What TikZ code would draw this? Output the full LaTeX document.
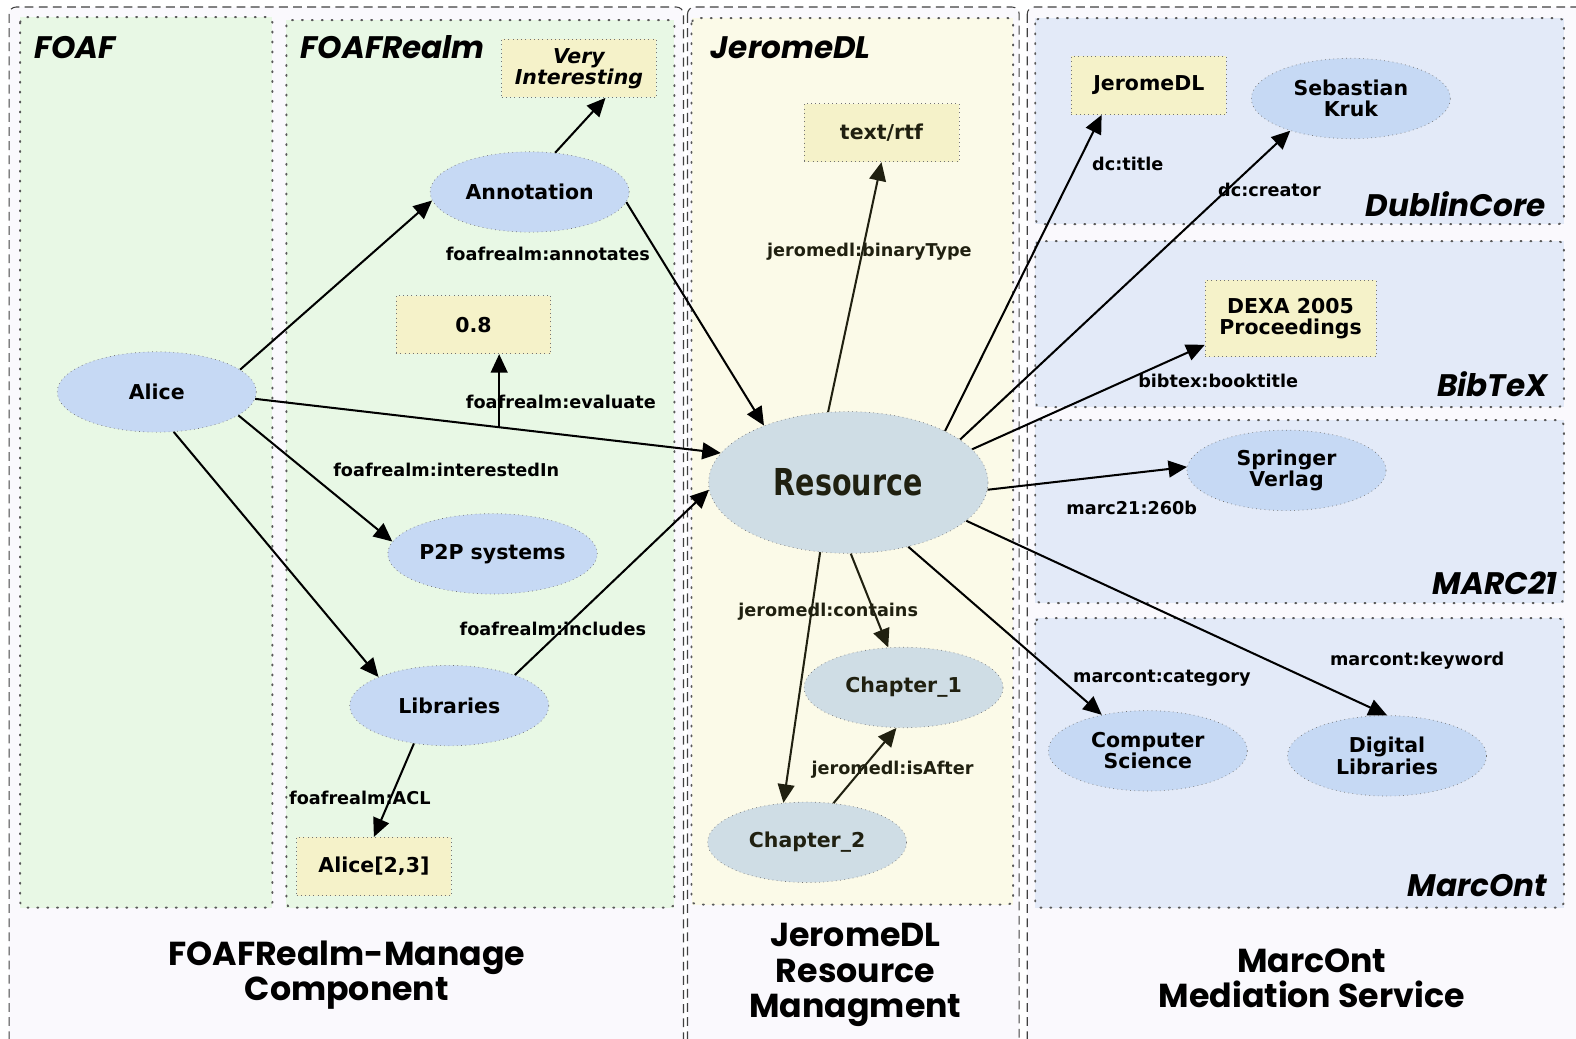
\documentclass[tikz,border=0pt]{standalone}
\usepackage{fontspec}
\setmainfont{DejaVu Sans}
\newfontfamily\headfont{Poppins}
\usetikzlibrary{shapes.geometric, arrows.meta, positioning}
\definecolor{outerfill}{RGB}{250,249,253}
\definecolor{foafgreen}{RGB}{232,248,229}
\definecolor{jdlyellow}{RGB}{251,250,232}
\definecolor{marcblue}{RGB}{227,234,248}
\definecolor{nodeblue}{RGB}{198,217,244}
\definecolor{resgray}{RGB}{207,221,229}
\definecolor{lityellow}{RGB}{245,242,201}
\definecolor{jdltext}{RGB}{32,32,16}
\newcommand{\nodefont}{\fontsize{11.6}{12}\selectfont\bfseries}
\newcommand{\lblfont}{\fontsize{10}{12}\selectfont\bfseries}
\newcommand{\regionfont}{\headfont\fontsize{17.6}{20}\selectfont\bfseries\itshape}
\newcommand{\compfont}{\headfont\fontsize{18.8}{19.9}\selectfont\bfseries}

\begin{document}
\begin{tikzpicture}[
    x=0.02cm, y=-0.02cm,
    outerbox/.style={draw=black!75, fill=outerfill, dash pattern=on 5pt off 3pt, line width=0.6pt, rounded corners=4pt},
    innerbox/.style={draw=black!65, dash pattern=on 0.6pt off 5pt, line cap=round, line width=1.1pt, rounded corners=3pt},
    res/.style={ellipse, draw=black!55, dotted, fill=nodeblue, minimum width=3.96cm, minimum height=1.6cm, inner sep=0.5pt, align=center, font=\nodefont},
    jres/.style={res, fill=resgray, text=jdltext},
    lit/.style={rectangle, draw=black!55, dotted, fill=lityellow, minimum width=3.08cm, minimum height=1.16cm, align=center, font=\nodefont},
    lbl/.style={font=\lblfont, inner sep=1pt},
    region/.style={font=\regionfont, inner sep=0pt},
    comp/.style={font=\compfont, align=center, inner sep=0pt},
    arr/.style={-{Triangle[length=10.5pt, width=9.5pt]}, line width=1.15pt},
    jarr/.style={arr, jdltext}
]
\useasboundingbox (0,0) rectangle (1568,1033);

% Components and vocabularies
\begin{scope}
\clip (0,0) rectangle (1568,1033);
\draw[outerbox] (9,7) rectangle (680,1050);
\draw[outerbox] (684,7) rectangle (1014,1050);
\draw[outerbox] (1022,7) rectangle (1590,1050);
\end{scope}
\fill[foafgreen] (20,17) rectangle (271,903);
\draw[innerbox] (20,17) rectangle (271,903);
\fill[foafgreen] (285,20) rectangle (671,903);
\draw[innerbox] (285,20) rectangle (671,903);
\fill[jdlyellow] (688,18) rectangle (1008,900);
\draw[innerbox] (688,18) rectangle (1008,900);
\foreach \top/\bot in {18/223, 240/405, 418/600, 615/903} {
  \fill[marcblue] (1030,\top) rectangle (1556,\bot);
  \draw[innerbox] (1030,\top) rectangle (1556,\bot);
}

% Region titles
\node[region, anchor=west] (tfoaf) at (34,47) {FOAF};
\node[region, anchor=west] (trealm) at (299,47) {FOAFRealm};
\node[region, anchor=west] (tjdl) at (707,47) {JeromeDL};
\node[region, anchor=east] (tdc) at (1538,203) {DublinCore};
\node[region, anchor=east] (tbib) at (1540,382) {BibTeX};
\node[region, anchor=east] (tmarc) at (1550,580) {MARC21};
\node[region, anchor=east] (tmo) at (1540,881) {MarcOnt};

\node[comp] (cfoaf) at (345,970) {FOAFRealm-Manage\\Component};
\node[comp] (cjdl) at (851,970) {JeromeDL\\Resource\\Managment};
\node[comp] (cmo) at (1305,973) {MarcOnt\\Mediation Service};

% FOAFRealm
\node[res] (alice) at (156,390) {Alice};
\node[res] (annot) at (527,191) {Annotation};
\node[lit, font=\nodefont\itshape] (very) at (576,68) {Very\\Interesting};
\node[lit] (eval) at (471,323) {0.8};
\node[res] (p2p) at (490,551) {P2P systems};
\node[res] (libs) at (447,702) {Libraries};
\node[lit] (acl) at (372,862) {Alice[2,3]};

% JeromeDL
\node[jres, minimum width=5.56cm, minimum height=2.82cm] (resource) at (844,480)
  {\scalebox{0.77}[1]{\fontsize{21}{21}\selectfont\bfseries Resource}};
\node[lit, text=jdltext] (rtf) at (877,132) {text/rtf};
\node[jres] (ch1) at (899,684) {Chapter\_1};
\node[jres] (ch2) at (803,838) {Chapter\_2};

% MarcOnt
\node[lit] (title) at (1143,85) {JeromeDL};
\node[res] (kruk) at (1344,98) {Sebastian\\Kruk};
\node[lit, minimum width=3.4cm, minimum height=1.52cm] (dexa) at (1284,317) {DEXA 2005\\Proceedings};
\node[res] (springer) at (1280,468) {Springer\\Verlag};
\node[res] (cs) at (1142,747) {Computer\\Science};
\node[res] (dl) at (1380,752) {Digital\\Libraries};

% Arrows
\draw[arr] (alice.15) -- (annot.185);
\draw[arr] (annot.57) -- (very.-48);
\draw[arr] (annot.-6) -- (resource.146);
\draw[arr] (alice.-4) -- coordinate[pos=0.524] (evalpt) (resource.167);
\draw[arr] (evalpt) -- (evalpt |- eval.south);
\draw[arr] (alice.-16) -- (p2p.173);
\draw[arr] (alice.-67) -- (libs.158);
\draw[arr] (libs.25) -- (resource.183);
\draw[arr] (libs.-133) -- (acl.north);
\draw[jarr] (resource.106) -- (rtf.south);
\draw[jarr] (resource.-88) -- (ch1.111);
\draw[jarr] (resource.-112) -- (ch2.121);
\draw[jarr] (ch2.56) -- (ch1.-100);
\draw[arr] (resource.28) -- (title.-148);
\draw[arr] (resource.21) -- (kruk.-152);
\draw[arr] (resource.15) -- (dexa.-163);
\draw[arr] (resource.-3) -- (springer.178);
\draw[arr] (resource.-47) -- (cs.142);
\draw[arr] (resource.-18) -- (dl.north);

% Property labels
\node[lbl] (lannot) at (545,253) {foafrealm:annotates};
\node[lbl] (leval) at (558,400) {foafrealm:evaluate};
\node[lbl] (lint) at (444,468) {foafrealm:interestedIn};
\node[lbl] (lincl) at (550,626) {foafrealm:includes};
\node[lbl] (lacl) at (358,794) {foafrealm:ACL};
\node[lbl, text=jdltext] (lbin) at (865,250) {jeromedl:binaryType};
\node[lbl, text=jdltext] (lcont) at (824,609) {jeromedl:contains};
\node[lbl, text=jdltext] (lafter) at (888,766) {jeromedl:isAfter};
\node[lbl] (ltitle) at (1122,163) {dc:title};
\node[lbl] (lcreator) at (1263,189) {dc:creator};
\node[lbl] (lbook) at (1212,379) {bibtex:booktitle};
\node[lbl] (l260) at (1126,505) {marc21:260b};
\node[lbl] (lcat) at (1156,675) {marcont:category};
\node[lbl] (lkey) at (1410,657) {marcont:keyword};
\end{tikzpicture}
\end{document}
